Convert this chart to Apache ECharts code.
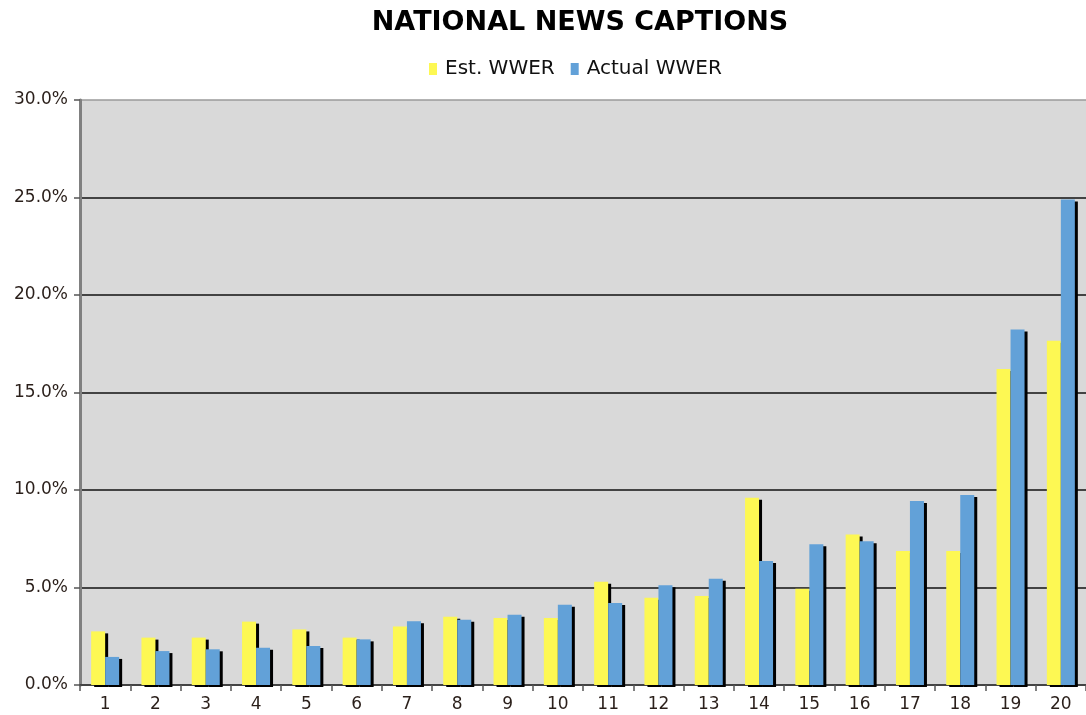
<!DOCTYPE html>
<html>
<head>
<meta charset="utf-8">
<script src="https://cdn.jsdelivr.net/npm/echarts@6/dist/echarts.min.js"></script>
<style>
html, body { margin: 0; padding: 0; background: #fff; }
#chart { width: 1086px; height: 715px; }
</style>
</head>
<body>
<div id="chart"></div>
<script>
var categories = ['1','2','3','4','5','6','7','8','9','10','11','12','13','14','15','16','17','18','19','20']
var estWWER = [2.75, 2.43, 2.43, 3.25, 2.85, 2.43, 3.0, 3.5, 3.43, 3.43, 5.3, 4.47, 4.56, 9.6, 4.93, 7.72, 6.87, 6.87, 16.2, 17.65]
var actualWWER = [1.44, 1.74, 1.83, 1.91, 2.0, 2.34, 3.27, 3.35, 3.6, 4.12, 4.2, 5.12, 5.45, 6.36, 7.22, 7.37, 9.43, 9.74, 18.23, 24.9]
var seriesNames = ['Est. WWER', 'Actual WWER']

var chart = echarts.init(document.getElementById('chart'), null, {renderer: 'canvas'})

// bars get a hard black shadow on the right, like the old 3d look
var barStyle = (color) => {
    return {
        color: color,
        shadowColor: '#000',
        shadowBlur: 0,
        shadowOffsetX: 3,
        shadowOffsetY: 2
    }
}

var opt = {
    animation: false,
    backgroundColor: '#fff',
    textStyle: { fontFamily: 'DejaVu Sans' },
    title: {
        text: 'NATIONAL NEWS CAPTIONS',
        left: 575,
        textAlign: 'center',
        top: 4,
        textStyle: { fontFamily: 'DejaVu Sans', fontWeight: 'bold', fontSize: 27, color: '#000' }
    },
    legend: {
        data: seriesNames,
        left: 424,
        top: 54,
        icon: 'rect',
        itemWidth: 8,
        itemHeight: 12,
        itemGap: 16,
        textStyle: { fontFamily: 'DejaVu Sans', fontSize: 20, color: '#111', padding: [0, 0, 0, 3] }
    },
    grid: {
        left: 80,
        top: 100,
        width: 1012,
        bottom: 30,
        show: true,
        backgroundColor: '#d9d9d9',
        borderWidth: 0,
        containLabel: false
    },
    xAxis: {
        type: 'category',
        data: categories,
        axisLine: { lineStyle: { color: '#444', width: 2 } },
        axisTick: { show: true, alignWithLabel: false, length: 6, lineStyle: { color: '#555', width: 1.5 } },
        axisLabel: { color: '#2a1f1a', fontSize: 17, margin: 11 },
        splitLine: { show: false }
    },
    yAxis: {
        type: 'value',
        min: 0,
        max: 30,
        interval: 5,
        axisLine: { show: true, lineStyle: { color: '#808080', width: 3 } },
        axisTick: { show: true, length: 6, lineStyle: { color: '#555', width: 1.5 } },
        axisLabel: {
            color: '#2a1f1a',
            fontSize: 17,
            margin: 12,
            formatter: (v) => v.toFixed(1) + '%'
        },
        splitLine: {
            show: true,
            lineStyle: { color: ['#444', '#111', '#111', '#111', '#111', '#111', '#9a9a9a'], width: 1.5 }
        }
    },
    series: [
        {
            name: seriesNames[0],
            type: 'bar',
            data: estWWER,
            barWidth: 14,
            barGap: '0%',
            itemStyle: barStyle('#fdf853')
        },
        {
            name: seriesNames[1],
            type: 'bar',
            data: actualWWER,
            barWidth: 14,
            barGap: '0%',
            itemStyle: barStyle('#62a1d8')
        }
    ]
}

chart.setOption(opt)
</script>
</body>
</html>
